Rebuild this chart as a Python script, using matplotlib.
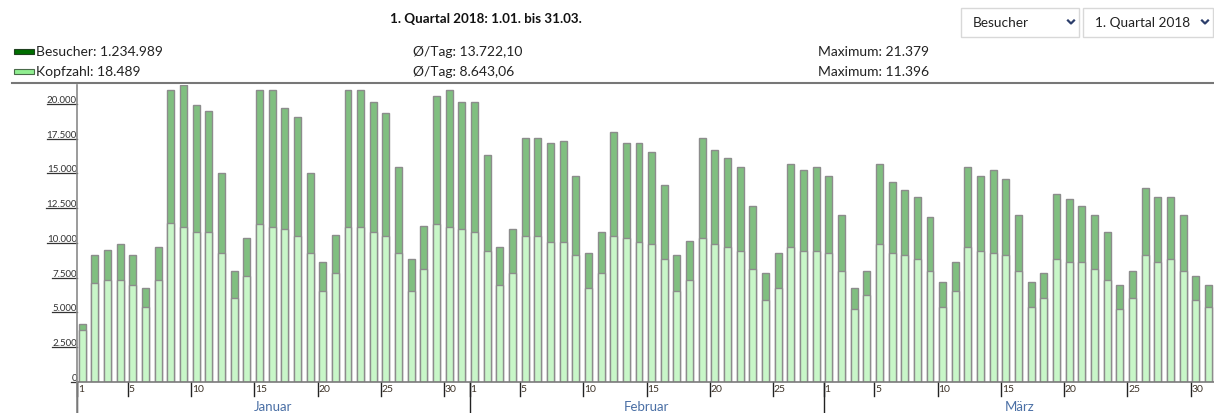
import matplotlib
matplotlib.use("Agg")
import matplotlib.pyplot as plt
from matplotlib.lines import Line2D
from matplotlib.patches import Rectangle
from matplotlib.transforms import blended_transform_factory

plt.rcParams['font.family'] = ['Lato', 'DejaVu Sans']

# ---------------- data ----------------
months = ["Januar", "Februar", "März"]
month_days = [31, 28, 31]
tick_days = [1, 5, 10, 15, 20, 25, 30]

besucher = [
    # Januar
    4130, 9100, 9480, 9940, 9100, 6740, 9670, 20980, 21379, 19900, 19490, 15000,
    7970, 10320, 20980, 20980, 19680, 19030, 15000, 8640, 10540, 20980, 20980,
    20140, 19320, 15460, 8810, 11180, 20540, 20980, 20140,
    # Februar
    20140, 16300, 9670, 10970, 17540, 17540, 17160, 17350, 14810, 9290, 10800,
    18000, 17160, 17160, 16510, 14160, 9100, 10130, 17540, 16700, 16100, 15460,
    12670, 7800, 9290, 15650, 15220, 15460,
    # März
    14810, 12000, 6740, 7970, 15650, 14350, 13780, 13320, 11830, 7150, 8640,
    15460, 14810, 15220, 14620, 12000, 7150, 7800, 13510, 13130, 12670, 12000,
    10780, 6940, 7970, 13970, 13320, 13320, 12000, 7580, 6940,
]
kopfzahl = [
    # Januar
    3740, 7130, 7320, 7320, 6940, 5400, 7320, 11396, 11160, 10750, 10750, 9290,
    6050, 7580, 11350, 11160, 10970, 10510, 9290, 6500, 7800, 11160, 11160,
    10750, 10510, 9290, 6500, 8140, 11350, 11160, 10970,
    # Februar
    10750, 9430, 6940, 7800, 10510, 10510, 10080, 10080, 9100, 6740, 7800,
    10510, 10320, 10080, 9940, 8810, 6500, 7320, 10320, 9940, 9670, 9430,
    8140, 5860, 6740, 9670, 9430, 9430,
    # März
    9290, 7970, 5260, 6260, 9940, 9290, 9100, 8810, 7970, 5400, 6500, 9670,
    9430, 9290, 9100, 7970, 5400, 6050, 8810, 8640, 8640, 8140, 7320, 5260,
    6050, 9100, 8640, 8810, 7970, 5860, 5400,
]
y_ticks = [0, 2500, 5000, 7500, 10000, 12500, 15000, 17500, 20000]
y_tick_labels = ["0", "2.500", "5.000", "7.500", "10.000", "12.500",
                 "15.000", "17.500", "20.000"]

title = "1. Quartal 2018: 1.01. bis 31.03."
legend_rows = [
    ("Besucher: 1.234.989", "Ø/Tag: 13.722,10", "Maximum: 21.379"),
    ("Kopfzahl: 18.489", "Ø/Tag: 8.643,06", "Maximum: 11.396"),
]
dropdowns = ["Besucher", "1. Quartal 2018"]

# ---------------- figure ----------------
W, H = 1214, 414
fig = plt.figure(figsize=(W / 100, H / 100), dpi=100)
fig.patch.set_facecolor("white")

def fx(px):
    return px / W

def fy(py):
    return 1 - py / H

ax_left, ax_right = 77.3, 1214.0
ax_top, ax_bottom = 85.7, 382.7
ax = fig.add_axes([fx(ax_left), fy(ax_bottom), fx(ax_right - ax_left),
                   (ax_bottom - ax_top) / H])
ax.set_axis_off()

n = len(besucher)
xs = list(range(n))
ax.set_xlim(0, 89.84)
ax.set_ylim(0, max(besucher))

dark_face = "#80bf80"
light_face = "#c8f6c8"
edge = "#8c8c8c"
ax.bar(xs, besucher, width=0.55, align="edge", color=dark_face,
       edgecolor=edge, linewidth=1.0)
ax.bar(xs, kopfzahl, width=0.55, align="edge", color=light_face,
       edgecolor=edge, linewidth=1.0)
# shift bars slightly right of the tick
for p in ax.patches:
    p.set_x(p.get_x() + 0.12)

# x axis line
bt = blended_transform_factory(ax.transData, fig.transFigure)
fig.add_artist(Line2D([fx(ax_left), 1.0], [fy(ax_bottom), fy(ax_bottom)],
                      transform=fig.transFigure, color="#7a7a7a", lw=1.2))
# y axis line extending to the bottom
fig.add_artist(Line2D([fx(ax_left), fx(ax_left)], [fy(ax_top), 0],
                      transform=fig.transFigure, color="#8a8a8a", lw=1.2))

# x ticks, labels, month separators
start = 0
for m, nd in zip(months, month_days):
    for d in tick_days:
        if d <= nd:
            xi = start + d - 1
            ax.add_line(Line2D([xi, xi], [fy(ax_bottom), fy(396.5)],
                               transform=bt, color="#222222", lw=1.0,
                               clip_on=False))
            ax.text(xi + 0.06, fy(385.5), str(d), transform=bt, ha="left",
                    va="top", fontsize=7.5, color="#3d3328")
    # month separator
    ax.add_line(Line2D([start, start], [fy(ax_bottom), 0], transform=bt,
                       color="#222222", lw=1.0, clip_on=False))
    ax.text(start + nd / 2, fy(407), m, transform=bt, ha="center",
            va="center", fontsize=9.5, color="#4a6fa5")
    start += nd

# y tick labels with underline-like ticks
fig.canvas.draw()
renderer = fig.canvas.get_renderer()
yt = blended_transform_factory(fig.transFigure, ax.transData)
for v, lab in zip(y_ticks, y_tick_labels):
    t = ax.text(fx(ax_left - 0.5), v, lab, transform=yt, ha="right",
                va="bottom", fontsize=7, color="#333333")
    bb = t.get_window_extent(renderer)
    ax.add_line(Line2D([bb.x0 / W, fx(ax_left)], [v, v], transform=yt,
                       color="#333333", lw=0.9, clip_on=False))

# ---------------- header ----------------
fig.text(fx(486), fy(19), title, ha="center", va="center", fontsize=9.6,
         fontweight="bold", color="#111111")

# separator line
fig.add_artist(Line2D([fx(12), 1.0], [fy(83.5), fy(83.5)],
                      transform=fig.transFigure, color="#777777", lw=1.5))

# legend rows
legend_faces = ["#006e00", "#90ee90"]
legend_edges = ["#1f3f1f", "#4a6a4a"]
row_y = [52.5, 72]
for (a, b, c), yy, fc, ec in zip(legend_rows, row_y, legend_faces, legend_edges):
    fig.add_artist(Rectangle((fx(14), fy(yy + 2.5)), fx(20), 5 / H,
                             transform=fig.transFigure, facecolor=fc,
                             edgecolor=ec, lw=0.8))
    fig.text(fx(36), fy(yy), a, ha="left", va="center", fontsize=10,
             color="#222222")
    fig.text(fx(413), fy(yy), b, ha="left", va="center", fontsize=10,
             color="#222222")
    fig.text(fx(818), fy(yy), c, ha="left", va="center", fontsize=10,
             color="#222222")

# dropdowns
boxes = [(961, 1079), (1083, 1213)]
for (x0, x1), lab in zip(boxes, dropdowns):
    fig.add_artist(Rectangle((fx(x0), fy(37.5)), fx(x1 - x0), 28.5 / H,
                             transform=fig.transFigure, facecolor="white",
                             edgecolor="#d8d8d8", lw=1.0))
    fig.text(fx(x0 + 12), fy(23), lab, ha="left", va="center", fontsize=9.8,
             color="#222222")
    cx = x1 - 8
    fig.add_artist(Line2D([fx(cx - 3), fx(cx), fx(cx + 3)],
                          [fy(21.5), fy(24.5), fy(21.5)],
                          transform=fig.transFigure, color="#2c3e6b", lw=1.6))

fig.savefig("out.png", dpi=100, facecolor="white")
